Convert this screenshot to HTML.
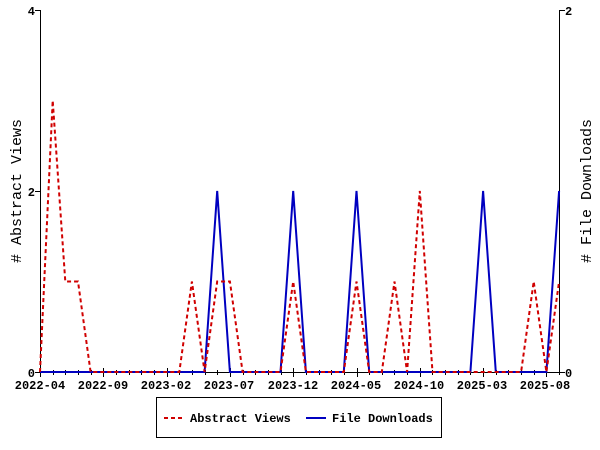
<!DOCTYPE html>
<html><head><style>body{margin:0;background:#fff}svg{display:block}text{font-family:"Liberation Mono",monospace;font-weight:bold}</style></head>
<body>
<svg width="600" height="450" xmlns="http://www.w3.org/2000/svg">
<rect width="600" height="450" fill="#fff"/>
<g id="ticks" stroke="#000" stroke-width="1"></g>
<line x1="40.5" y1="10" x2="40.5" y2="372" stroke="#000"/>
<line x1="559.5" y1="10" x2="559.5" y2="372" stroke="#000"/>
<line x1="40" y1="372.5" x2="560" y2="372.5" stroke="#000"/>
<g stroke="#000">
<line x1="35" y1="10.5" x2="40" y2="10.5"/><line x1="35" y1="191.5" x2="40" y2="191.5"/><line x1="35" y1="372.5" x2="40" y2="372.5"/>
<line x1="560" y1="10.5" x2="565" y2="10.5"/><line x1="560" y1="372.5" x2="565" y2="372.5"/>
</g>
<g font-size="12" text-anchor="end"><text x="35" y="15">4</text><text x="35" y="196">2</text><text x="35" y="377">0</text></g>
<g font-size="12"><text x="565" y="15">2</text><text x="565" y="377">0</text></g>
<g font-size="12" text-anchor="middle">
<text x="40" y="389">2022-04</text><text x="103" y="389">2022-09</text><text x="166" y="389">2023-02</text><text x="229" y="389">2023-07</text><text x="293" y="389">2023-12</text><text x="356" y="389">2024-05</text><text x="419" y="389">2024-10</text><text x="482" y="389">2025-03</text><text x="545" y="389">2025-08</text>
</g>
<text font-size="15" font-weight="normal" style="font-weight:normal" text-anchor="middle" transform="translate(21,191) rotate(-90)"># Abstract Views</text>
<text font-size="15" style="font-weight:normal" text-anchor="middle" transform="translate(591,191) rotate(-90)"># File Downloads</text>
<g id="pl"></g>
<rect x="156.5" y="397.5" width="285" height="40" fill="#fff" stroke="#000"/>
<line x1="164" y1="418" x2="184" y2="418" stroke="#d00000" stroke-width="2" stroke-dasharray="4,3"/>
<text x="190" y="422" font-size="12">Abstract Views</text>
<line x1="306" y1="418" x2="326" y2="418" stroke="#0000c0" stroke-width="2"/>
<text x="332" y="422" font-size="12">File Downloads</text>
</svg>
<script>
var ns="http://www.w3.org/2000/svg";
function X(i){return 40+i*12.66}
var t=document.getElementById("ticks");
for(var i=0;i<=41;i++){var l=document.createElementNS(ns,"line");var x=Math.round(X(i))+0.5;l.setAttribute("x1",x);l.setAttribute("x2",x);l.setAttribute("y1",(i%5==0)?368:370);l.setAttribute("y2",(i%5==0)?377:375);t.appendChild(l);}
var av=new Array(42).fill(0);av[1]=3;av[2]=1;av[3]=1;av[12]=1;av[14]=1;av[15]=1;av[20]=1;av[25]=1;av[28]=1;av[30]=2;av[39]=1;av[41]=1;
var fd=new Array(42).fill(0);[14,20,25,35,41].forEach(function(i){fd[i]=2});
var pl=document.getElementById("pl");
function P(d,s,c,dash){var p=document.createElementNS(ns,"polyline");p.setAttribute("points",d.map(function(v,i){return X(i).toFixed(1)+","+(372-v*s).toFixed(1)}).join(" "));p.setAttribute("fill","none");p.setAttribute("stroke",c);p.setAttribute("stroke-width","2");if(dash)p.setAttribute("stroke-dasharray",dash);pl.appendChild(p);}
P(fd,90.5,"#0000c0");
P(av,90.5,"#d00000","4,3");
</script>
</body></html>
